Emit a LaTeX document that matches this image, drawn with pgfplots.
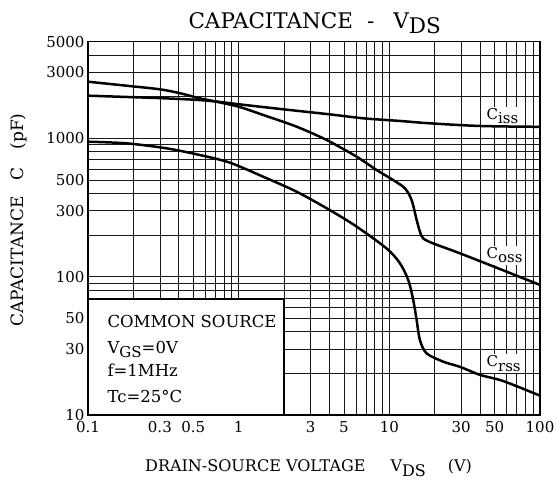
\documentclass[border=0pt]{standalone}
\usepackage{fontspec}
\setmainfont{DejaVu Serif}
\usepackage{pgfplots}
\pgfplotsset{compat=1.18}
\newcommand{\lowered}[1]{\raisebox{-0.3em}{#1}}

\begin{document}
\begin{tikzpicture}
\path[use as bounding box] (0pt,0pt) rectangle (556pt,482pt);
\begin{axis}[
  at={(88pt,67pt)}, anchor=south west,
  scale only axis, width=452pt, height=373.3pt,
  xmode=log, ymode=log,
  xmin=0.1, xmax=100, ymin=10, ymax=5000,
  xtick={0.1,0.3,0.5,1,3,5,10,30,50,100},
  xticklabels={0.1,0.3,0.5,1,3,5,10,30,50,100},
  minor xtick={0.2,0.4,0.6,0.7,0.8,0.9,2,4,6,7,8,9,20,40,60,70,80,90},
  ytick={10,30,50,100,300,500,1000,3000,5000},
  yticklabels={10,30,50,100,300,500,1000,3000,5000},
  minor ytick={20,40,60,70,80,90,200,400,600,700,800,900,2000,4000},
  grid=both,
  major grid style={black!90, line width=0.7pt},
  minor grid style={black!90, line width=0.7pt},
  major tick length=0pt, minor tick length=0pt,
  axis line style={line width=1.3pt},
  tick label style={font=\fontsize{15}{15}\selectfont},
  xticklabel style={yshift=-3pt},
  /pgf/number format/assume math mode=true,
]
% legend box
\draw[fill=white, line width=1.1pt] (axis cs:0.1,10) rectangle (axis cs:2,69);
% curve labels
\node[anchor=base west, fill=white, inner sep=1.5pt, font=\fontsize{15}{15}\selectfont] at (axis cs:43.1,1374) {C\lowered{iss}};
\node[anchor=base west, fill=white, inner sep=1.5pt, font=\fontsize{15}{15}\selectfont] at (axis cs:43.1,135.8) {C\lowered{oss}};
\node[anchor=base west, fill=white, inner sep=1.5pt, font=\fontsize{15}{15}\selectfont] at (axis cs:43.1,22.3) {C\lowered{rss}};
% Ciss
\addplot[black, line width=2.5pt, smooth, tension=0.5] coordinates {
(0.1,2036) (0.2,1985) (0.3,1955) (0.5,1905) (0.7,1850) (1,1765) (2,1620) (4,1493) (6.7,1397) (11.8,1336) (18.6,1285) (40,1229) (100,1212)
};
% Coss
\addplot[black, line width=2.5pt, smooth, tension=0.5] coordinates {
(0.1,2569) (0.18,2403) (0.3,2263) (0.41,2118) (0.55,1950) (0.7,1848) (1,1694) (1.456,1476) (2.43,1214) (3.84,973) (6.07,737) (8.24,590) (10.6,500) (12.69,435) (14.06,358) (15.18,257) (16,210) (16.79,189) (19.56,174) (29.4,147.6) (54.2,113.6) (100,87.1)
};
% Crss
\addplot[black, line width=2.5pt, smooth, tension=0.5] coordinates {
(0.1,946) (0.18,921) (0.333,847) (0.553,758) (0.875,667) (1.456,528) (2.43,411) (4.03,303) (6.07,230) (9.59,160) (11.76,125) (13.35,94.6) (14.41,67.8) (15.18,48.6) (15.96,34.8) (17.68,27.9) (22.8,24.3) (29.4,22.3) (40,19.5) (57,17.6) (100,13.8)
};
\end{axis}
% title
\node[anchor=base west, font=\fontsize{21.5}{21.5}\selectfont] at (185pt,453.7pt) {CAPACITANCE\hspace{14pt}-\hspace{19pt}V\raisebox{-5pt}{DS}};
% x label
\node[anchor=base west, font=\fontsize{16}{16}\selectfont] at (141.7pt,10.3pt) {DRAIN-SOURCE VOLTAGE\hspace{25pt}V\raisebox{-5pt}{DS}\hspace{22pt}(V)};
% y label
\node[rotate=90, anchor=base west, font=\fontsize{17}{17}\selectfont] at (23pt,152pt) {CAPACITANCE\hspace{16pt}C\hspace{18pt}(pF)};
% legend text
\node[anchor=base west, font=\fontsize{16.5}{16.5}\selectfont] at (104pt,155pt) {COMMON SOURCE};
\node[anchor=base west, font=\fontsize{16.5}{16.5}\selectfont] at (104pt,129pt) {V\lowered{\fontsize{15}{15}\selectfont GS}=0V};
\node[anchor=base west, font=\fontsize{16.5}{16.5}\selectfont] at (104pt,106pt) {f=1MHz};
\node[anchor=base west, font=\fontsize{16.5}{16.5}\selectfont] at (104pt,79.3pt) {Tc=25°C};
\end{tikzpicture}
\end{document}
